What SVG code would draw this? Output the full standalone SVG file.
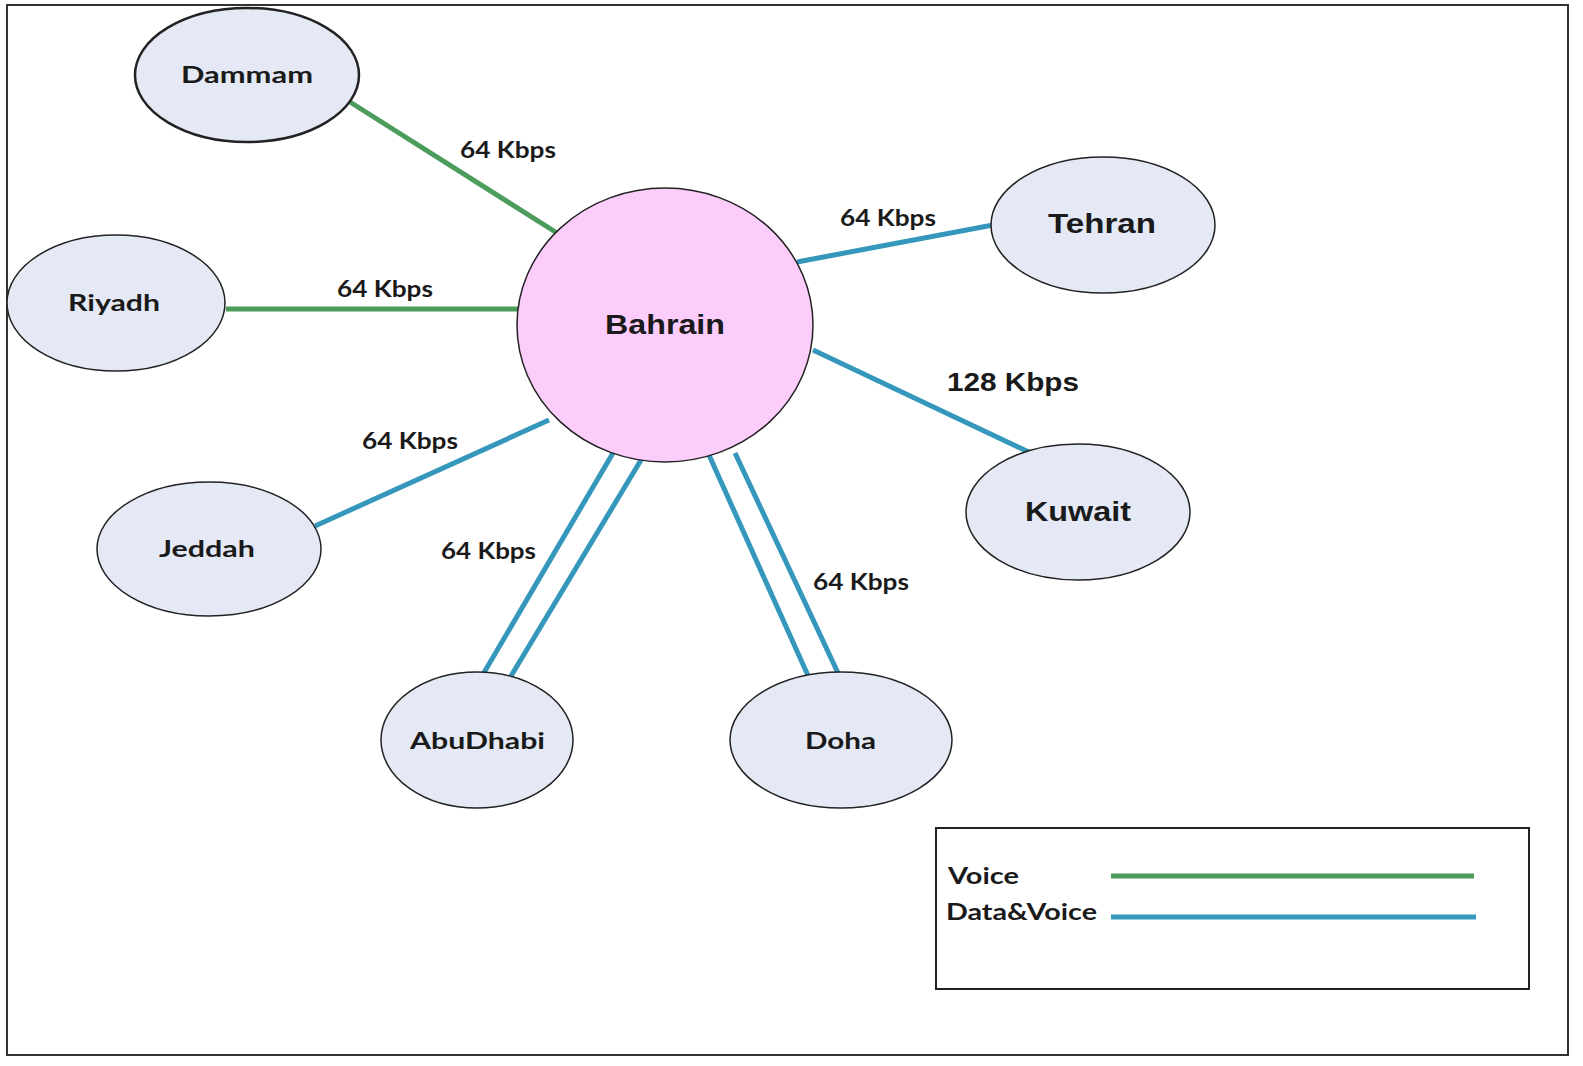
<svg xmlns="http://www.w3.org/2000/svg" width="1583" height="1066" viewBox="0 0 1583 1066">
<style>
.bg{fill:#ffffff}
.frame{fill:none;stroke:#333333;stroke-width:2}
.node{fill:#e4e9f5;stroke:#222222;stroke-width:1.5}
.hub{fill:#fccdfb;stroke:#222222;stroke-width:1.5}
.voice{stroke:#4c9c5c;stroke-width:5;fill:none}
.data{stroke:#3497bb;stroke-width:5;fill:none}
.cal{font-family:Lato,"Open Sans","Liberation Sans",sans-serif;font-weight:bold;fill:#1a1a1a}
.ari{font-family:"Liberation Sans",Arial,sans-serif;font-weight:bold;fill:#1a1a1a}
.lbl{font-size:22px}
.nl{font-size:22px}
.al{font-size:27px}
</style>
<rect class="bg" x="0" y="0" width="1583" height="1066"/>
<rect class="frame" x="7" y="5" width="1561" height="1050"/>
<g id="connectors">
<line class="voice" x1="350" y1="102" x2="557" y2="233"/>
<line class="voice" x1="226" y1="309" x2="519" y2="309"/>
<line class="data" x1="797" y1="262" x2="993" y2="225"/>
<line class="data" x1="813" y1="350" x2="1035" y2="455"/>
<line class="data" x1="315" y1="526" x2="549" y2="420"/>
<line class="data" x1="613" y1="453" x2="482" y2="676"/>
<line class="data" x1="641" y1="460" x2="511" y2="676"/>
<line class="data" x1="709" y1="455" x2="810" y2="680"/>
<line class="data" x1="735" y1="453" x2="838" y2="673"/>
</g>
<g id="link-labels">
<text class="cal lbl" x="460" y="158" textLength="96" lengthAdjust="spacingAndGlyphs">64 Kbps</text>
<text class="cal lbl" x="337" y="297" textLength="96" lengthAdjust="spacingAndGlyphs">64 Kbps</text>
<text class="cal lbl" x="840" y="226" textLength="96" lengthAdjust="spacingAndGlyphs">64 Kbps</text>
<text class="cal lbl" x="362" y="449" textLength="96" lengthAdjust="spacingAndGlyphs">64 Kbps</text>
<text class="cal lbl" x="441" y="559" textLength="95" lengthAdjust="spacingAndGlyphs">64 Kbps</text>
<text class="cal lbl" x="813" y="590" textLength="96" lengthAdjust="spacingAndGlyphs">64 Kbps</text>
<text class="ari" x="947" y="391" font-size="25" textLength="132" lengthAdjust="spacingAndGlyphs">128 Kbps</text>
</g>
<g id="bahrain"><ellipse class="hub" cx="665" cy="325" rx="148" ry="137"/><text class="ari al" x="605" y="334" textLength="120" lengthAdjust="spacingAndGlyphs">Bahrain</text></g>
<g id="dammam"><ellipse class="node" cx="247" cy="75" rx="112" ry="67" style="stroke-width:2.5"/><text class="cal nl" x="181" y="83" textLength="132" lengthAdjust="spacingAndGlyphs">Dammam</text></g>
<g id="riyadh"><ellipse class="node" cx="116" cy="303" rx="109" ry="68"/><text class="cal nl" x="68" y="311" textLength="92" lengthAdjust="spacingAndGlyphs">Riyadh</text></g>
<g id="jeddah"><ellipse class="node" cx="209" cy="549" rx="112" ry="67"/><text class="cal nl" x="159" y="557" textLength="96" lengthAdjust="spacingAndGlyphs">Jeddah</text></g>
<g id="abudhabi"><ellipse class="node" cx="477" cy="740" rx="96" ry="68"/><text class="cal nl" x="410" y="749" textLength="135" lengthAdjust="spacingAndGlyphs">AbuDhabi</text></g>
<g id="doha"><ellipse class="node" cx="841" cy="740" rx="111" ry="68"/><text class="cal nl" x="805" y="749" textLength="71" lengthAdjust="spacingAndGlyphs">Doha</text></g>
<g id="kuwait"><ellipse class="node" cx="1078" cy="512" rx="112" ry="68"/><text class="ari al" x="1025" y="521" textLength="106" lengthAdjust="spacingAndGlyphs">Kuwait</text></g>
<g id="tehran"><ellipse class="node" cx="1103" cy="225" rx="112" ry="68"/><text class="ari al" x="1048" y="233" textLength="108" lengthAdjust="spacingAndGlyphs">Tehran</text></g>
<g id="legend">
<rect x="936" y="828" width="593" height="161" fill="#ffffff" stroke="#222222" stroke-width="2"/>
<text class="cal" x="948" y="884" font-size="22" textLength="71" lengthAdjust="spacingAndGlyphs">Voice</text>
<text class="cal" x="946" y="920" font-size="22" textLength="151" lengthAdjust="spacingAndGlyphs">Data&amp;Voice</text>
<line class="voice" x1="1111" y1="876" x2="1474" y2="876"/>
<line class="data" x1="1111" y1="917" x2="1476" y2="917"/>
</g>
</svg>
